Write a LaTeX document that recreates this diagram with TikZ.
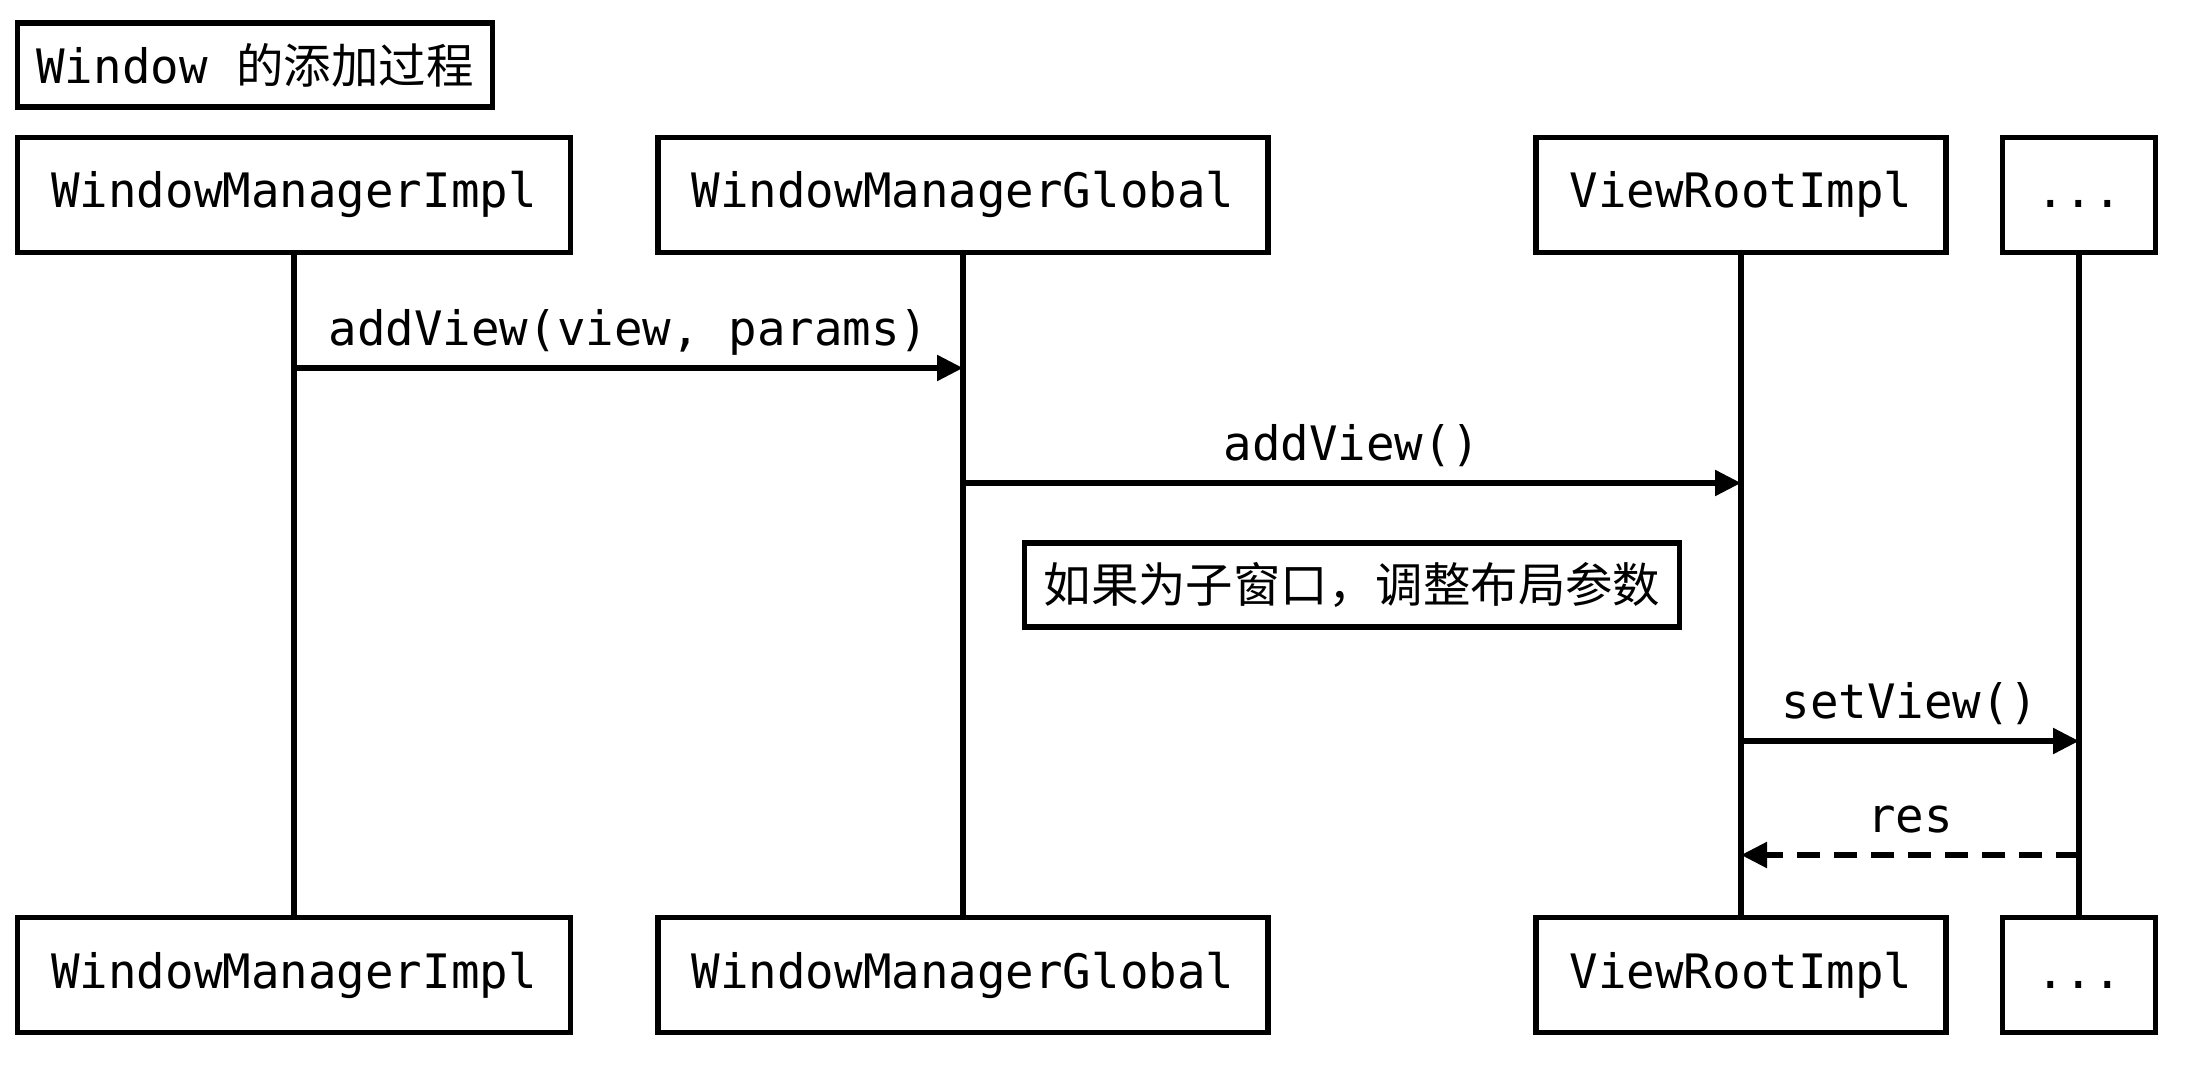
\documentclass[tikz,border=0pt]{standalone}
\usepackage{fontspec}
\setmonofont{DejaVu Sans Mono}
\newfontfamily\cjk{Noto Sans CJK SC}
\usepackage{tikz}
\usetikzlibrary{arrows.meta,positioning}
\tikzset{
  actor/.style={draw, line width=1.55pt, minimum height=1.15cm, inner xsep=0.335cm,
    text height=0.36cm, text depth=0.10cm},
  notebox/.style={draw, line width=1.55pt, minimum height=0.84cm, inner xsep=0.19cm},
  life/.style={line width=1.55pt},
  msg/.style={line width=1.55pt, -{Triangle[length=0.26cm,width=0.25cm]}},
  reply/.style={msg, dash pattern=on 0.23cm off 0.14cm},
  lbl/.style={anchor=base, yshift=0.23cm}
}

\begin{document}
\begin{tikzpicture}[x=1cm,y=1cm, font=\ttfamily\fontsize{13.5}{16}\selectfont]
\useasboundingbox (0,0) rectangle (21.88,10.70);
\node[notebox] (title) at (2.55,10.05) {Window {\cjk 的添加过程}};
% participants, top and bottom
\node[actor] (wmiT) at (2.94,8.75) {WindowManagerImpl};
\node[actor] (wmgT) at (9.63,8.75) {WindowManagerGlobal};
\node[actor] (vriT) at (17.41,8.75) {ViewRootImpl};
\node[actor] (othT) at (20.79,8.75) {...};
\node[actor] (wmiB) at (2.94,0.95) {WindowManagerImpl};
\node[actor] (wmgB) at (9.63,0.95) {WindowManagerGlobal};
\node[actor] (vriB) at (17.41,0.95) {ViewRootImpl};
\node[actor] (othB) at (20.79,0.95) {...};
\draw[life] (wmiT) -- (wmiB);
\draw[life] (wmgT) -- (wmgB);
\draw[life] (vriT) -- (vriB);
\draw[life] (othT) -- (othB);
% message points on the lifelines
\coordinate (wmi1) at (2.94,7.02);
\coordinate (wmg1) at (9.63,7.02);
\coordinate (wmg2) at (9.63,5.87);
\coordinate (vri2) at (17.41,5.87);
\coordinate (vri3) at (17.41,3.29);
\coordinate (oth3) at (20.79,3.29);
\coordinate (oth4) at (20.79,2.15);
\coordinate (vri4) at (17.41,2.15);
\draw[msg] (wmi1) -- (wmg1) node[midway,lbl] {addView(view, params)};
\draw[msg] (wmg2) -- (vri2) node[midway,lbl] {addView()};
\node[notebox] (note) at (13.52,4.85) {\cjk 如果为子窗口，调整布局参数};
\draw[msg] (vri3) -- (oth3) node[midway,lbl] {setView()};
\draw[reply] (oth4) -- (vri4) node[midway,lbl] {res};
\end{tikzpicture}
\end{document}
